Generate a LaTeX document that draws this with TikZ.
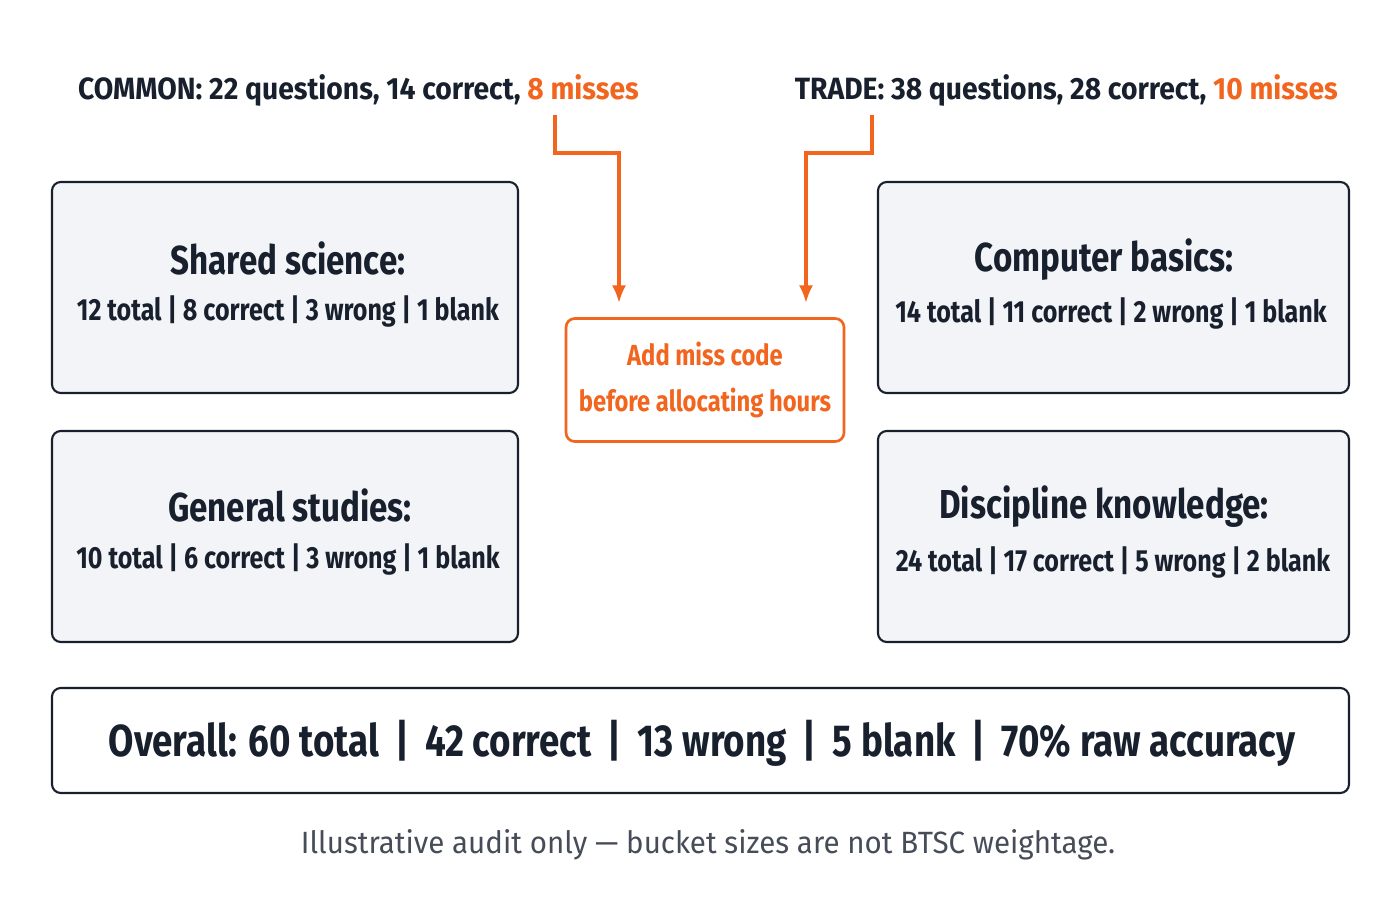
\documentclass[tikz,border=0pt]{standalone}
\usepackage{fontspec}
\setmainfont{Fira Sans}[FakeStretch=0.82]
\newfontfamily\headfont{Fira Sans}[FakeStretch=0.92]
\newfontfamily\notefont{Fira Sans}[FakeStretch=0.96]
\usetikzlibrary{positioning,arrows.meta}
\definecolor{ink}{HTML}{18202E}
\definecolor{accent}{HTML}{F2651E}
\definecolor{panel}{HTML}{F3F4F7}
\begin{document}
\begin{tikzpicture}[x=0.02cm,y=-0.02cm]
    \tikzstyle{bucket}=[draw=ink, line width=1.2pt, fill=panel, rounded corners=5pt]
    \tikzstyle{title}=[font=\fontsize{23}{27}\selectfont\bfseries, text=ink]
    \tikzstyle{stats}=[font=\fontsize{17.4}{20}\selectfont\bfseries, text=ink]
    \tikzstyle{head}=[font=\headfont\fontsize{17.5}{20}\selectfont\bfseries, text=ink]
    \tikzstyle{feed}=[accent, line width=1.8pt, -{Latex[length=10pt,width=8pt]}]

    \useasboundingbox[fill=white] (0,0) rectangle (1400,900);

    % section headers
    \node[head, anchor=west] (common) at (72,90) {COMMON: 22 questions, 14 correct, \textcolor{accent}{8 misses}};
    \node[head, anchor=east] (trade) at (1344,90) {TRADE: 38 questions, 28 correct, \textcolor{accent}{10 misses}};

    % buckets
    \draw[bucket] (52,182) rectangle (518,393);
    \draw[bucket] (878,182) rectangle (1349,393);
    \draw[bucket] (52,431) rectangle (518,642);
    \draw[bucket] (878,431) rectangle (1349,642);
    \draw[bucket, fill=white] (52,688) rectangle (1349,793);

    \node[title] (shared) at (288,258) {Shared science:};
    \node[stats] (sharedS) at (288,312) {12 total | 8 correct | 3 wrong | 1 blank};
    \node[title] (comp) at (1104,260) {Computer basics:};
    \node[stats] (compS) at (1111,314) {14 total | 11 correct | 2 wrong | 1 blank};
    \node[title] (gen) at (290,505) {General studies:};
    \node[stats] (genS) at (288,560) {10 total | 6 correct | 3 wrong | 1 blank};
    \node[title] (disc) at (1104,507) {Discipline knowledge:};
    \node[stats] (discS) at (1113,563) {24 total | 17 correct | 5 wrong | 2 blank};

    \node[font=\fontsize{25.5}{30}\selectfont\bfseries, text=ink] (overall) at (702,743)
        {Overall: 60 total \,|\, 42 correct \,|\, 13 wrong \,|\, 5 blank \,|\, 70\% raw accuracy};

    % miss code box
    \node[draw=accent, line width=1.5pt, fill=white, rounded corners=5pt, minimum width=278*0.02cm,
          minimum height=123*0.02cm, align=center, text=accent,
          font=\fontsize{16.5}{26}\selectfont\bfseries] (miss) at (705,380)
          {Add miss code\\before allocating hours};

    \coordinate (cA) at (555,115);
    \coordinate (cB) at (872,115);
    \draw[feed] (cA) |- (619,153) -- (619,303);
    \draw[feed] (cB) |- (806,153) -- (806,303);

    \node[font=\notefont\fontsize{17.5}{20}\selectfont, text=ink!80] (note) at (708,845)
        {Illustrative audit only — bucket sizes are not BTSC weightage.};
\end{tikzpicture}
\end{document}
